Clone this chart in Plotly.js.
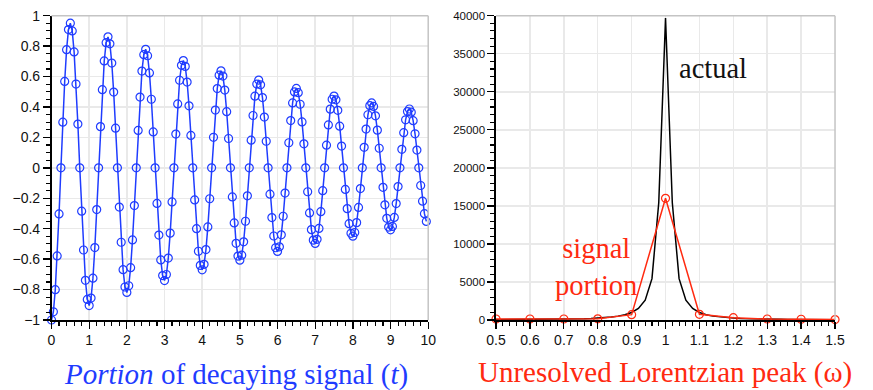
<!DOCTYPE html>
<html>
<head>
<meta charset="utf-8">
<script src="https://cdn.plot.ly/plotly-3.0.1.min.js"></script>
<style>html,body{margin:0;padding:0;background:#fff;}#chart{width:873px;height:390px;}</style>
</head>
<body>
<div id="chart"></div>
<script>
// Left panel: sampled decaying signal, sample step 0.05 from t = 0
const tStart = 0, tStep = 0.05;
const signalValues = [
 -1.000,-0.946,-0.801,-0.579,-0.303,0,0.300,0.568,0.777,0.909,0.951,0.900,0.762,0.551,0.288,0,-0.285,-0.540,-0.739,-0.865,
 -0.905,-0.856,-0.725,-0.524,-0.274,0,0.271,0.514,0.703,0.823,0.861,0.815,0.689,0.498,0.261,0,-0.258,-0.489,-0.669,-0.783,
 -0.819,-0.775,-0.656,-0.474,-0.248,0,0.246,0.465,0.636,0.744,0.779,0.737,0.624,0.451,0.236,0,-0.234,-0.442,-0.605,-0.708,
 -0.741,-0.701,-0.593,-0.429,-0.224,0,0.222,0.420,0.576,0.674,0.705,0.667,0.564,0.408,0.213,0,-0.211,-0.400,-0.548,-0.641,
 -0.670,-0.634,-0.537,-0.388,-0.203,0,0.201,0.380,0.521,0.609,0.638,0.603,0.511,0.369,0.193,0,-0.191,-0.362,-0.496,-0.580,
 -0.607,-0.574,-0.486,-0.351,-0.184,0,0.182,0.344,0.471,0.551,0.577,0.546,0.462,0.334,0.175,0,-0.173,-0.327,-0.448,-0.525,
 -0.549,-0.519,-0.440,-0.318,-0.166,0,0.165,0.311,0.427,0.499,0.522,0.494,0.418,0.302,0.158,0,-0.157,-0.296,-0.406,-0.475,
 -0.497,-0.470,-0.398,-0.288,-0.150,0,0.149,0.282,0.386,0.451,0.472,0.447,0.378,0.274,0.143,0,-0.142,-0.268,-0.367,-0.430,
 -0.449,-0.425,-0.360,-0.260,-0.136,0,0.135,0.255,0.349,0.409,0.427,0.404,0.342,0.248,0.129,0,-0.128,-0.243,-0.332,-0.389,
 -0.407,-0.385,-0.326,-0.235,-0.123,0,0.122,0.231,0.316,0.370,0.387,0.366,0.310,0.224,0.117,0,-0.116,-0.219,-0.301,-0.352
];
const times = signalValues.map((_, i) => +(tStart + i * tStep).toFixed(2));

// Right panel: actual Lorentzian (omega grid step 0.02) and signal-portion spectrum (step 0.1)
const actualOmega = [0.50,0.52,0.54,0.56,0.58,0.60,0.62,0.64,0.66,0.68,0.70,0.72,0.74,0.76,0.78,0.80,0.82,0.84,0.86,0.88,0.90,0.92,0.94,0.96,0.98,
 1.00,1.02,1.04,1.06,1.08,1.10,1.12,1.14,1.16,1.18,1.20,1.22,1.24,1.26,1.28,1.30,1.32,1.34,1.36,1.38,1.40,1.42,1.44,1.46,1.48,1.50];
const actualValues = [40,44,48,52,57,63,70,78,87,98,112,128,149,174,207,250,309,390,508,688,983,1515,2615,5437,15413,
 39700,15413,5437,2615,1515,983,688,508,390,309,250,207,174,149,128,112,98,87,78,70,63,57,52,48,44,40];
const portionOmega = [0.5,0.6,0.7,0.8,0.9,1.0,1.1,1.2,1.3,1.4,1.5];
const portionValues = [130,130,130,150,700,16000,750,300,130,100,50];

const xTickLabelsLeft = ['0','1','2','3','4','5','6','7','8','9','10'];

const BLUE = '#1f3cff';
const RED = '#ff2a10';
const GRID = '#e9e9e9';
const FRAME = '#c4c4c4';
const SERIF = 'Liberation Serif, Times New Roman, serif';
const tickFont = {family: 'Liberation Sans, Arial, sans-serif', size: 14, color: '#111'};

const traces = [
  {x: times, y: signalValues, type: 'scatter', mode: 'lines+markers', xaxis: 'x', yaxis: 'y',
   line: {color: BLUE, width: 1.5},
   marker: {symbol: 'circle-open', size: 8, color: BLUE, line: {width: 1.2, color: BLUE}},
   cliponaxis: false, hoverinfo: 'skip'},
  {x: actualOmega, y: actualValues, type: 'scatter', mode: 'lines', xaxis: 'x2', yaxis: 'y2',
   line: {color: '#000', width: 1.5}, cliponaxis: false, hoverinfo: 'skip'},
  {x: portionOmega, y: portionValues, type: 'scatter', mode: 'lines+markers', xaxis: 'x2', yaxis: 'y2',
   line: {color: RED, width: 1.5},
   marker: {symbol: 'circle-open', size: 8, color: RED, line: {width: 1.2, color: RED}},
   cliponaxis: false, hoverinfo: 'skip'}
];

function axisBase(extra) {
  return Object.assign({
    showline: true, linecolor: '#000', linewidth: 1.6,
    ticks: 'outside', ticklen: 7, tickwidth: 1.3, tickcolor: '#000',
    showgrid: true, gridcolor: GRID, gridwidth: 1.5,
    zeroline: false, tickfont: tickFont, fixedrange: true
  }, extra);
}

const layout = {
  width: 873, height: 390,
  margin: {l: 0, r: 0, t: 0, b: 0},
  paper_bgcolor: '#fff', plot_bgcolor: '#fff',
  showlegend: false,
  xaxis: axisBase({domain: [0.0590, 0.4905], range: [0, 10], tickmode: 'array',
    tickvals: xTickLabelsLeft.map(Number), ticktext: xTickLabelsLeft, anchor: 'y',
    minor: {dtick: 0.2, ticklen: 4, tickwidth: 1.1, tickcolor: '#000', ticks: 'outside', showgrid: false}}),
  yaxis: axisBase({domain: [0.1795, 0.9597], range: [-1, 1], dtick: 0.2, anchor: 'x',
    minor: {dtick: 0.05, ticklen: 4, tickwidth: 1.1, tickcolor: '#000', ticks: 'outside', showgrid: false}}),
  xaxis2: axisBase({domain: [0.5682, 0.9565], range: [0.5, 1.5], dtick: 0.1, anchor: 'y2',
    minor: {dtick: 0.02, ticklen: 4, tickwidth: 1.1, tickcolor: '#000', ticks: 'outside', showgrid: false}}),
  yaxis2: axisBase({domain: [0.1795, 0.9597], range: [0, 40000], dtick: 5000, tickformat: 'd', anchor: 'x2',
    tickfont: {family: 'Liberation Sans, Arial, sans-serif', size: 11.5, color: '#111'},
    minor: {dtick: 1000, ticklen: 4, tickwidth: 1.1, tickcolor: '#000', ticks: 'outside', showgrid: false}}),
  shapes: [
    {type: 'line', xref: 'x domain', yref: 'y domain', x0: 0, x1: 1, y0: 1, y1: 1, line: {color: FRAME, width: 1.5}},
    {type: 'line', xref: 'x domain', yref: 'y domain', x0: 1, x1: 1, y0: 0, y1: 1, line: {color: FRAME, width: 1.5}},
    {type: 'line', xref: 'x2 domain', yref: 'y2 domain', x0: 0, x1: 1, y0: 1, y1: 1, line: {color: FRAME, width: 1.5}},
    {type: 'line', xref: 'x2 domain', yref: 'y2 domain', x0: 1, x1: 1, y0: 0, y1: 1, line: {color: FRAME, width: 1.5}}
  ],
  annotations: [
    {xref: 'paper', yref: 'paper', x: 0.2703, y: 0.040, xanchor: 'center', yanchor: 'middle', showarrow: false,
     text: '<i>Portion</i> of decaying signal (<i>t</i>)',
     font: {family: SERIF, size: 29, color: BLUE}},
    {xref: 'paper', yref: 'paper', x: 0.7617, y: 0.046, xanchor: 'center', yanchor: 'middle', showarrow: false,
     text: 'Unresolved Lorentzian peak (ω)',
     font: {family: SERIF, size: 29, color: RED}},
    {xref: 'x2', yref: 'y2', x: 1.140, y: 33000, xanchor: 'center', yanchor: 'middle', showarrow: false,
     text: 'actual', font: {family: SERIF, size: 28.5, color: '#111'}},
    {xref: 'x2', yref: 'y2', x: 0.7935, y: 6970, xanchor: 'center', yanchor: 'middle', showarrow: false,
     text: 'signal<br>portion', font: {family: SERIF, size: 28.5, color: RED}}
  ]
};

Plotly.newPlot('chart', traces, layout, {staticPlot: true, displayModeBar: false});
</script>
</body>
</html>
